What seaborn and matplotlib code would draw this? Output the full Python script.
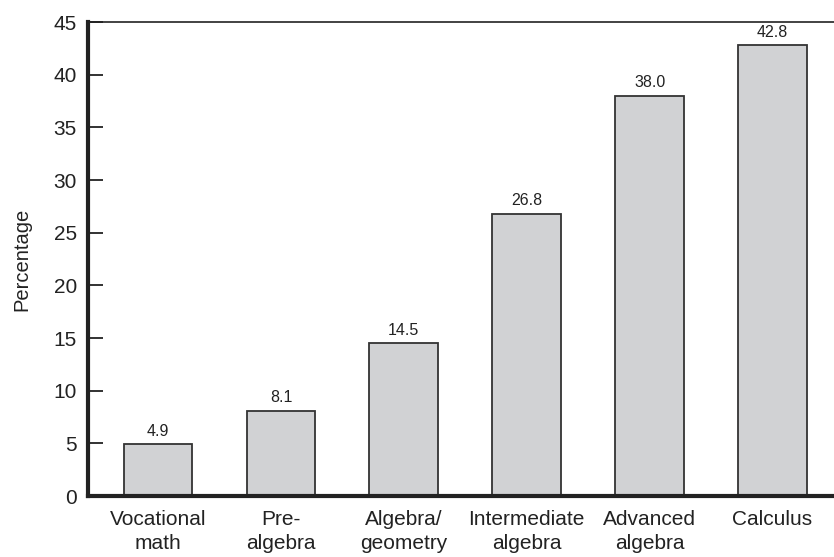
import pandas as pd
import seaborn as sns
import matplotlib.pyplot as plt

# data
courses = ["Vocational\nmath", "Pre-\nalgebra", "Algebra/\ngeometry",
           "Intermediate\nalgebra", "Advanced\nalgebra", "Calculus"]
pct = [4.9, 8.1, 14.5, 26.8, 38.0, 42.8]

df = pd.DataFrame({"course": courses, "pct": pct})

sns.set_style("ticks")
plt.rcParams['font.family'] = ['Liberation Sans', 'DejaVu Sans']

fig = plt.figure(figsize=(8.34, 5.57), dpi=100)
ax = fig.add_axes([0.1055, 0.1095, 0.8945, 0.851])

sns.barplot(data=df, x="course", y="pct", color="#d1d2d4", saturation=1,
            edgecolor="#333333", linewidth=1.3, width=0.56, ax=ax)

# value labels above bars
for i, v in enumerate(pct):
    ax.text(i, v + 0.5, f"{v:.1f}", ha="center", va="bottom", fontsize=11.5, color="#222222")

ax.set_xlim(-0.57, 5.5)
ax.set_ylim(0, 45)
ax.set_yticks(range(0, 50, 5))
ax.set_xlabel("")
ax.set_ylabel("Percentage", fontsize=14.5, color="#222222")
ax.yaxis.set_label_coords(-0.076, 0.5)

ax.spines["right"].set_visible(False)
ax.spines["top"].set_linewidth(1.2)
ax.spines["left"].set_linewidth(3)
ax.spines["bottom"].set_linewidth(3)
for s in ax.spines.values():
    s.set_color("#222222")
    s.set_zorder(1.5)

ax.tick_params(axis="y", which="major", direction="in", length=11, width=1.3,
               color="#222222", labelcolor="#222222", labelsize=15, left=True, pad=8)
ax.tick_params(axis="x", length=0, labelsize=15, labelcolor="#222222", pad=10)
for lab in ax.get_xticklabels():
    lab.set_linespacing(1.35)

fig.savefig("out.png", dpi=100)
